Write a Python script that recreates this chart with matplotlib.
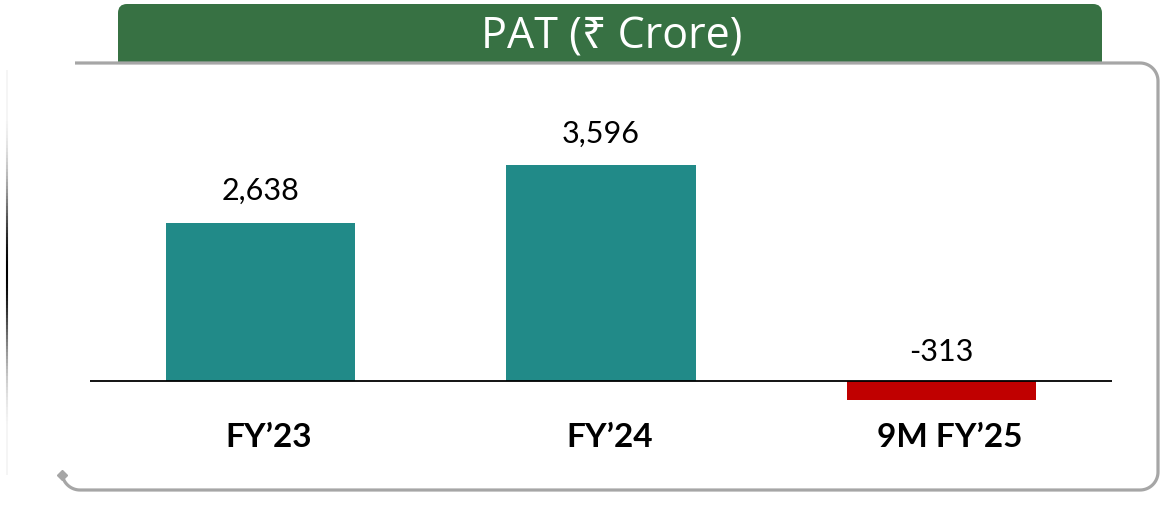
import numpy as np
import matplotlib
matplotlib.use("Agg")
import matplotlib.pyplot as plt
from matplotlib.patches import FancyBboxPatch, Rectangle
from matplotlib.collections import LineCollection

# PAT in Rs crore
periods = ["FY\u201923", "FY\u201924", "9M FY\u201925"]
pat = [2638, 3596, -313]
value_labels = ["2,638", "3,596", "-313"]

TEAL = "#218A88"
RED = "#C00000"
GREEN = "#377143"
FRAME = "#A6A6A6"

W, H = 1170, 519
fig = plt.figure(figsize=(W / 100, H / 100), dpi=100)
fig.patch.set_facecolor("white")

# pixel-space overlay for the header and frame
bg = fig.add_axes([0, 0, 1, 1], zorder=0)
bg.set_xlim(0, W)
bg.set_ylim(H, 0)
bg.axis("off")

header = FancyBboxPatch((118, 4), 984, 80, boxstyle="round,pad=0,rounding_size=9",
                        facecolor=GREEN, edgecolor="none")
bg.add_patch(header)
bg.add_patch(Rectangle((100, 63), 1020, 30, facecolor="white", edgecolor="none"))
bg.text(612, 37, "PAT (\u20b9 Crore)", color="white", fontsize=31,
        ha="center", va="center", family=["Open Sans", "Noto Sans", "DejaVu Sans"])

# rounded frame with a hook at the bottom left
r = 18
t = np.linspace(0, np.pi / 2, 20)
xs = [75, 1140]
ys = [63, 63]
xs += list(1140 + r * np.sin(t)); ys += list(81 - r * np.cos(t))
xs += [1158]; ys += [472]
xs += list(1140 + r * np.cos(t)); ys += list(472 + r * np.sin(t))
xs += [80]; ys += [490]
xs += list(80 - r * np.sin(t[:-2])); ys += list(472 + r * np.cos(t[:-2]))
bg.plot(xs, ys, color=FRAME, lw=2.3, solid_capstyle="butt")
bg.plot([xs[-1]], [ys[-1]], marker="D", ms=5, color=FRAME)

# faint left edge line, darkest around the middle
yy = np.linspace(70, 475, 120)
alpha = np.clip(np.exp(-((yy - 270) / 85) ** 2), 0.04, 1)
segs = [[(7, yy[i]), (7, yy[i + 1])] for i in range(len(yy) - 1)]
lc = LineCollection(segs, colors=[(0, 0, 0, a) for a in alpha[:-1]], linewidths=1.5)
bg.add_collection(lc)

# bar chart
top_px, bot_px, base_px = 100, 420, 381
k = 0.06
ax = fig.add_axes([90 / W, 1 - bot_px / H, (1112 - 90) / W, (bot_px - top_px) / H], zorder=1)
ax.patch.set_alpha(0)
ax.set_xlim(-0.5, 2.5)
ax.set_ylim(-(bot_px - base_px) / k, (base_px - top_px) / k)

x = np.arange(len(periods))
colors = [TEAL if v >= 0 else RED for v in pat]
ax.bar(x, pat, width=0.555, color=colors, zorder=2)
ax.axhline(0, color="black", lw=1.3, zorder=3)

for i, (v, lab) in enumerate(zip(pat, value_labels)):
    y0 = max(v, 0)
    off = 23 if v >= 0 else 21
    ax.annotate(lab, (i, y0), xytext=(0, off), textcoords="offset points",
                ha="center", va="center", fontsize=22, family="Lato", color="black")
    ax.annotate(periods[i], (i, 0), xytext=(6, -41), textcoords="offset points",
                ha="center", va="center", fontsize=24, family="Lato",
                fontweight="bold", color="black")

ax.axis("off")

fig.savefig("out.png", dpi=100)
